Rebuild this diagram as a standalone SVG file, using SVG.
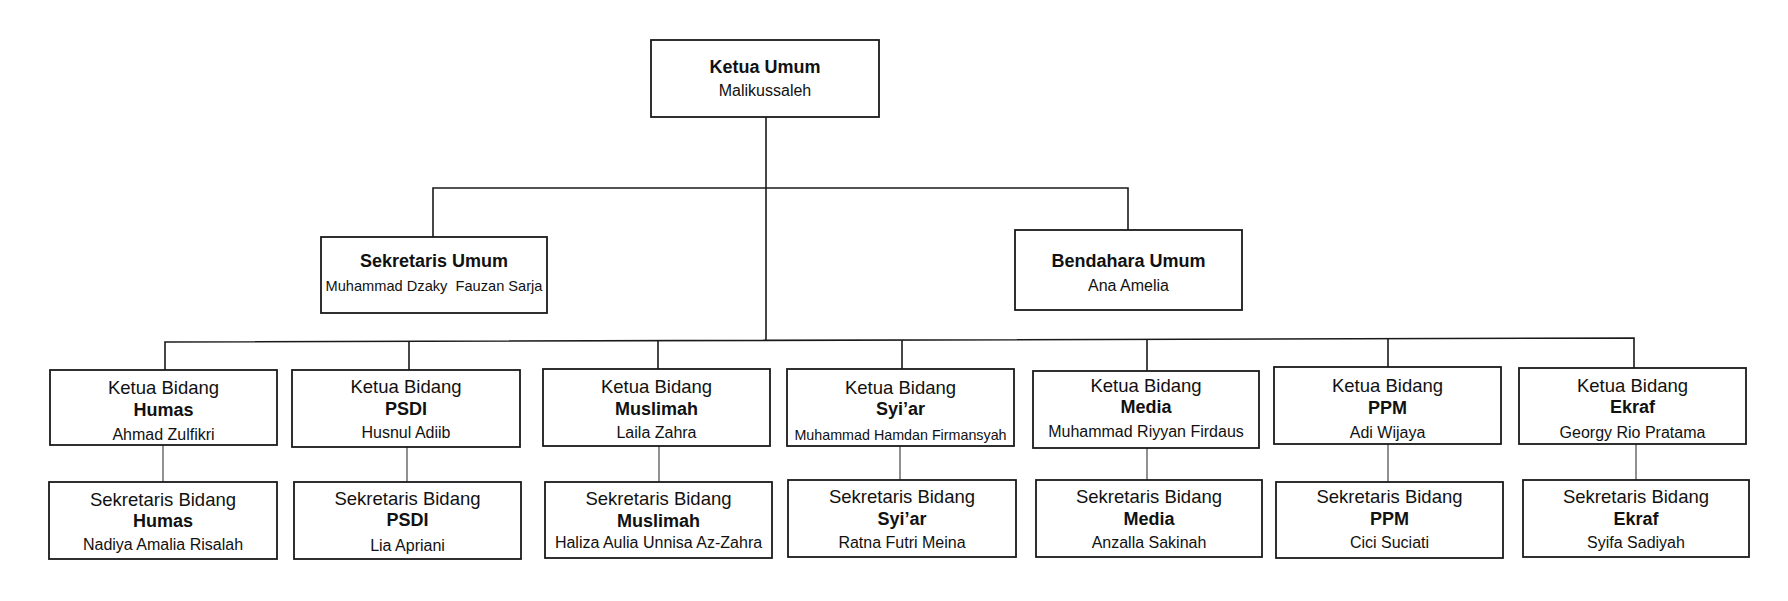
<svg xmlns="http://www.w3.org/2000/svg" width="1788" height="601" viewBox="0 0 1788 601">
<style>
.box{fill:#fff;stroke:#1a1a1a;stroke-width:1.8}
.ln{fill:none;stroke:#1a1a1a;stroke-width:1.6}
.ln2{fill:none;stroke:#555;stroke-width:1.3}
text{font-family:"Liberation Sans",Arial,sans-serif;fill:#111;text-anchor:middle}
.t{font-size:18.5px}
.b{font-size:18px;font-weight:bold}
.n{font-size:16px}
.s{font-size:14.3px}
</style>
<rect width="1788" height="601" fill="#fff"/>
<g id="connectors">
<path class="ln" d="M766 117V340"/>
<path class="ln" d="M433 237V188H1128V230"/>
<path class="ln" d="M165 370V342L1634 338V368"/>
<path class="ln" d="M409 370V341.3"/>
<path class="ln" d="M658 369V340.6"/>
<path class="ln" d="M902 369V340"/>
<path class="ln" d="M1147 371V339.3"/>
<path class="ln" d="M1388 367V338.7"/>
<path class="ln2" d="M163 445V482"/>
<path class="ln2" d="M407 447V482"/>
<path class="ln2" d="M659 446V482"/>
<path class="ln2" d="M900 446V480"/>
<path class="ln2" d="M1147 448V480"/>
<path class="ln2" d="M1388 444V482"/>
<path class="ln2" d="M1636 444V480"/>
</g>
<g id="ketua-umum">
<rect class="box" x="651" y="40" width="228" height="77"/>
<text class="b" x="765" y="73">Ketua Umum</text>
<text class="n" x="765" y="96">Malikussaleh</text>
</g>
<g id="sekretaris-umum">
<rect class="box" x="321" y="237" width="226" height="76"/>
<text class="b" x="434" y="267">Sekretaris Umum</text>
<text class="n" x="434" y="291" style="font-size:14.6px;white-space:pre" xml:space="preserve" textLength="217" lengthAdjust="spacingAndGlyphs">Muhammad Dzaky  Fauzan Sarja</text>
</g>
<g id="bendahara-umum">
<rect class="box" x="1015" y="230" width="227" height="80"/>
<text class="b" x="1128.5" y="267">Bendahara Umum</text>
<text class="n" x="1128.5" y="291">Ana Amelia</text>
</g>
<g id="ketua-humas">
<rect class="box" x="50" y="370" width="227" height="75"/>
<text class="t" x="163.5" y="394">Ketua Bidang</text>
<text class="b" x="163.5" y="416">Humas</text>
<text class="n" x="163.5" y="440">Ahmad Zulfikri</text>
</g>
<g id="sekretaris-humas">
<rect class="box" x="49" y="482" width="228" height="77"/>
<text class="t" x="163" y="506">Sekretaris Bidang</text>
<text class="b" x="163" y="527">Humas</text>
<text class="n" x="163" y="550">Nadiya Amalia Risalah</text>
</g>
<g id="ketua-psdi">
<rect class="box" x="292" y="370" width="228" height="77"/>
<text class="t" x="406" y="393">Ketua Bidang</text>
<text class="b" x="406" y="415">PSDI</text>
<text class="n" x="406" y="438">Husnul Adiib</text>
</g>
<g id="sekretaris-psdi">
<rect class="box" x="294" y="482" width="227" height="77"/>
<text class="t" x="407.5" y="505">Sekretaris Bidang</text>
<text class="b" x="407.5" y="526">PSDI</text>
<text class="n" x="407.5" y="551">Lia Apriani</text>
</g>
<g id="ketua-muslimah">
<rect class="box" x="543" y="369" width="227" height="77"/>
<text class="t" x="656.5" y="393">Ketua Bidang</text>
<text class="b" x="656.5" y="415">Muslimah</text>
<text class="n" x="656.5" y="438">Laila Zahra</text>
</g>
<g id="sekretaris-muslimah">
<rect class="box" x="545" y="482" width="227" height="76"/>
<text class="t" x="658.5" y="505">Sekretaris Bidang</text>
<text class="b" x="658.5" y="527">Muslimah</text>
<text class="n" x="658.5" y="548">Haliza Aulia Unnisa Az-Zahra</text>
</g>
<g id="ketua-syiar">
<rect class="box" x="787" y="369" width="227" height="77"/>
<text class="t" x="900.5" y="394">Ketua Bidang</text>
<text class="b" x="900.5" y="415">Syi’ar</text>
<text class="s" x="900.5" y="440">Muhammad Hamdan Firmansyah</text>
</g>
<g id="sekretaris-syiar">
<rect class="box" x="788" y="480" width="228" height="77"/>
<text class="t" x="902" y="503">Sekretaris Bidang</text>
<text class="b" x="902" y="525">Syi’ar</text>
<text class="n" x="902" y="548">Ratna Futri Meina</text>
</g>
<g id="ketua-media">
<rect class="box" x="1033" y="371" width="226" height="77"/>
<text class="t" x="1146" y="392">Ketua Bidang</text>
<text class="b" x="1146" y="413">Media</text>
<text class="n" x="1146" y="437">Muhammad Riyyan Firdaus</text>
</g>
<g id="sekretaris-media">
<rect class="box" x="1036" y="480" width="226" height="77"/>
<text class="t" x="1149" y="503">Sekretaris Bidang</text>
<text class="b" x="1149" y="525">Media</text>
<text class="n" x="1149" y="548">Anzalla Sakinah</text>
</g>
<g id="ketua-ppm">
<rect class="box" x="1274" y="367" width="227" height="77"/>
<text class="t" x="1387.5" y="392">Ketua Bidang</text>
<text class="b" x="1387.5" y="414">PPM</text>
<text class="n" x="1387.5" y="438">Adi Wijaya</text>
</g>
<g id="sekretaris-ppm">
<rect class="box" x="1276" y="482" width="227" height="76"/>
<text class="t" x="1389.5" y="503">Sekretaris Bidang</text>
<text class="b" x="1389.5" y="525">PPM</text>
<text class="n" x="1389.5" y="548">Cici Suciati</text>
</g>
<g id="ketua-ekraf">
<rect class="box" x="1519" y="368" width="227" height="76"/>
<text class="t" x="1632.5" y="392">Ketua Bidang</text>
<text class="b" x="1632.5" y="413">Ekraf</text>
<text class="n" x="1632.5" y="438">Georgy Rio Pratama</text>
</g>
<g id="sekretaris-ekraf">
<rect class="box" x="1523" y="480" width="226" height="77"/>
<text class="t" x="1636" y="503">Sekretaris Bidang</text>
<text class="b" x="1636" y="525">Ekraf</text>
<text class="n" x="1636" y="548">Syifa Sadiyah</text>
</g>
</svg>
